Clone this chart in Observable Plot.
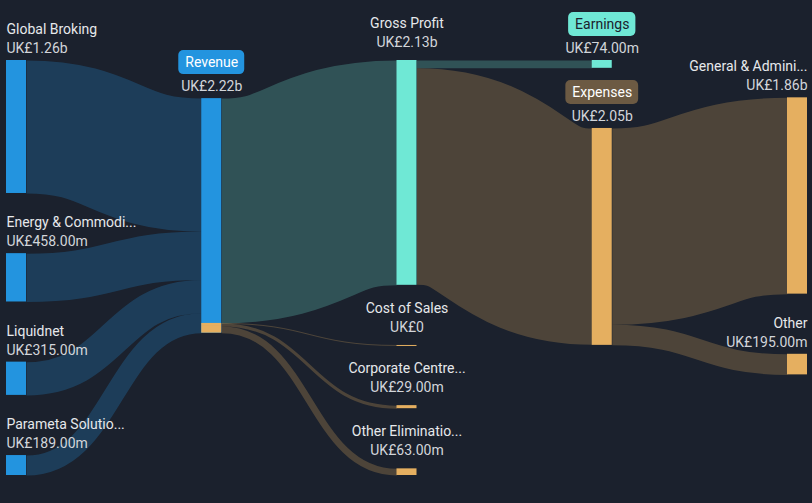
<!DOCTYPE html>
<html><head><meta charset="utf-8">
<script src="https://cdn.jsdelivr.net/npm/d3@7"></script>
<script src="https://cdn.jsdelivr.net/npm/@observablehq/plot@0.6"></script>
<style>
html,body{margin:0;padding:0;background:#1b212d;}
#chart{width:812px;height:503px;overflow:hidden;}
</style></head>
<body><div id="chart"></div>
<script>
// ---------- data ----------
const nodeNames = ["Global Broking","Energy & Commodi...","Liquidnet","Parameta Solutio...","Revenue","Gross Profit","Cost of Sales","Corporate Centre...","Other Eliminatio...","Earnings","Expenses","General & Admini...","Other"];
const nodeLabels = ["UK£1.26b","UK£458.00m","UK£315.00m","UK£189.00m","UK£2.22b","UK£2.13b","UK£0","UK£29.00m","UK£63.00m","UK£74.00m","UK£2.05b","UK£1.86b","UK£195.00m"];
const nodeKinds = ["revenue","revenue","revenue","revenue","revenue","profit","expense","expense","expense","profit","expense","expense","expense"];
const badgeNodes = ["Revenue","Earnings","Expenses"];
const linkSources = ["Global Broking","Energy & Commodi...","Liquidnet","Parameta Solutio...","Revenue","Revenue","Revenue","Revenue","Gross Profit","Gross Profit","Expenses","Expenses"];
const linkTargets = ["Revenue","Revenue","Revenue","Revenue","Gross Profit","Cost of Sales","Corporate Centre...","Other Eliminatio...","Earnings","Expenses","General & Admini...","Other"];
const linkValues = [1260,458,315,189,2130,0,29,63,74,2050,1860,195]; // UK£ millions

// ---------- sankey layout (d3-sankey algorithm, left aligned, input order kept) ----------
const GAP = 570;        // node padding, in value units
const ITER = 24;
const nodes = nodeNames.map((name,i)=>({index:i,name,label:nodeLabels[i],kind:nodeKinds[i],sourceLinks:[],targetLinks:[]}));
const byName = new Map(nodes.map(n=>[n.name,n]));
const links = linkSources.map((s,i)=>({index:i,source:byName.get(s),target:byName.get(linkTargets[i]),value:linkValues[i]}));
for (const l of links){ l.source.sourceLinks.push(l); l.target.targetLinks.push(l); }
for (const n of nodes) n.value = Math.max(d3.sum(n.sourceLinks,l=>l.value), d3.sum(n.targetLinks,l=>l.value));
{
  let cur = new Set(nodes), nxt = new Set(), x = 0;
  while (cur.size){ for (const n of cur){ n.depth = x; for (const l of n.sourceLinks) nxt.add(l.target);} x++; cur = nxt; nxt = new Set(); }
}
const nCols = d3.max(nodes,n=>n.depth)+1;
const columns = d3.range(nCols).map(()=>[]);
for (const n of nodes) columns[n.depth].push(n);
const Y0 = 0;
const Y1 = d3.max(columns, c => d3.sum(c,n=>n.value) + (c.length-1)*GAP);
const py = GAP;
const ascB = (a,b)=>a.y0-b.y0;
function reorderNodeLinks({sourceLinks,targetLinks}){
  for (const {source:{sourceLinks}} of targetLinks) sourceLinks.sort((a,b)=>ascB(a.target,b.target)||a.index-b.index);
  for (const {target:{targetLinks}} of sourceLinks) targetLinks.sort((a,b)=>ascB(a.source,b.source)||a.index-b.index);
}
function reorderLinks(ns){ for (const {sourceLinks,targetLinks} of ns){ sourceLinks.sort((a,b)=>ascB(a.target,b.target)||a.index-b.index); targetLinks.sort((a,b)=>ascB(a.source,b.source)||a.index-b.index);} }
const ky = d3.min(columns, c => (Y1-Y0-(c.length-1)*py)/d3.sum(c,n=>n.value));
for (const ns of columns){
  let y = Y0;
  for (const n of ns){ n.y0=y; n.y1=y+n.value*ky; y=n.y1+py; for (const l of n.sourceLinks) l.width=l.value*ky; }
  y = (Y1 - y + py)/(ns.length+1);
  ns.forEach((n,i)=>{ n.y0 += y*(i+1); n.y1 += y*(i+1); });
  reorderLinks(ns);
}
function targetTop(source,target){
  let y = source.y0 - (source.sourceLinks.length-1)*py/2;
  for (const {target:node,width} of source.sourceLinks){ if (node===target) break; y += width+py; }
  for (const {source:node,width} of target.targetLinks){ if (node===source) break; y -= width; }
  return y;
}
function sourceTop(source,target){
  let y = target.y0 - (target.targetLinks.length-1)*py/2;
  for (const {source:node,width} of target.targetLinks){ if (node===source) break; y += width+py; }
  for (const {target:node,width} of source.sourceLinks){ if (node===target) break; y -= width; }
  return y;
}
function tb(ns,y,i,a){ for (;i<ns.length;++i){ const n=ns[i]; const dy=(y-n.y0)*a; if (dy>1e-6) n.y0+=dy,n.y1+=dy; y=n.y1+py; } }
function bt(ns,y,i,a){ for (;i>=0;--i){ const n=ns[i]; const dy=(n.y1-y)*a; if (dy>1e-6) n.y0-=dy,n.y1-=dy; y=n.y0-py; } }
function resolve(ns,a){ const i=ns.length>>1; const s=ns[i]; bt(ns,s.y0-py,i-1,a); tb(ns,s.y1+py,i+1,a); bt(ns,Y1,ns.length-1,a); tb(ns,Y0,0,a); }
function relaxLR(a,b){
  for (let i=1;i<columns.length;++i){ const col=columns[i];
    for (const t of col){ let y=0,w=0; for (const {source,value} of t.targetLinks){ const v=value*(t.depth-source.depth); y+=targetTop(source,t)*v; w+=v; }
      if (!(w>0)) continue; const dy=(y/w-t.y0)*a; t.y0+=dy; t.y1+=dy; reorderNodeLinks(t); }
    resolve(col,b); }
}
function relaxRL(a,b){
  for (let i=columns.length-2;i>=0;--i){ const col=columns[i];
    for (const s of col){ let y=0,w=0; for (const {target,value} of s.sourceLinks){ const v=value*(target.depth-s.depth); y+=sourceTop(s,target)*v; w+=v; }
      if (!(w>0)) continue; const dy=(y/w-s.y0)*a; s.y0+=dy; s.y1+=dy; reorderNodeLinks(s); }
    resolve(col,b); }
}
for (let i=0;i<ITER;++i){ const a=Math.pow(0.99,i); const b=Math.max(1-a,(i+1)/ITER); relaxRL(a,b); relaxLR(a,b); }
for (const n of nodes){ let y0=n.y0, y1=n.y0;
  for (const l of n.sourceLinks){ l.y0=y0+l.width/2; y0+=l.width; }
  for (const l of n.targetLinks){ l.y1=y1+l.width/2; y1+=l.width; } }

// ---------- rendering ----------
const W = 812, H = 503;
const xRange = [6, 787];
const yRange = [60, 475];
const pxPerCol = (xRange[1]-xRange[0])/(nCols-1);
const k = (yRange[1]-yRange[0])/(Y1-Y0);        // px per value unit
const NW = 20/pxPerCol;                          // node width in column units
const ctx = document.createElement("canvas").getContext("2d");
ctx.font = "14px Roboto";
const tw = s => ctx.measureText(s).width;

const last = nCols-1;
const cx = n => n.depth===0 ? n.depth : n.depth===last ? n.depth+NW : n.depth+NW/2;
const nameOff = n => n.depth===2 ? 37 : 31;
const valOff = n => n.depth===2 ? 18 : 12;
const isBadge = n => badgeNodes.includes(n.name);
const badges = nodes.filter(isBadge);
const plain = nodes.filter(n=>!isBadge(n));
const anchorOf = n => n.depth===0 ? "start" : n.depth===last ? "end" : "middle";
const splitLinks = links.filter(l => l.source.kind==="revenue" && l.source.depth>0 && l.target.kind==="expense");

const textMarks = [];
for (const anchor of ["start","middle","end"]){
  const pn = plain.filter(n=>anchorOf(n)===anchor);
  const all = nodes.filter(n=>anchorOf(n)===anchor);
  textMarks.push(Plot.text(pn,{x:cx,y:n=>n.y0-nameOff(n)/k,text:"name",textAnchor:anchor,fill:"#e6e8eb",fontSize:14}));
  textMarks.push(Plot.text(all,{x:cx,y:n=>n.y0-valOff(n)/k,text:"label",textAnchor:anchor,fill:"#d2d5da",fontSize:14}));
}

const chart = Plot.plot({
  width: W, height: H,
  marginTop: yRange[0], marginBottom: H-yRange[1], marginLeft: xRange[0], marginRight: W-xRange[1],
  x: {domain:[0,nCols-1], range:xRange, axis:null},
  y: {domain:[Y0,Y1], range:yRange, axis:null},
  color: {domain:["revenue","profit","expense","expense-badge"], range:["#2394df","#6fe8d5","#e5af60","#6c5a43"]},
  style: {background:"#1b212d", fontFamily:"Roboto, sans-serif", fontSize:"14px", overflow:"visible"},
  marks: [
    Plot.link(links,{x1:l=>l.source.depth+NW, y1:"y0", x2:l=>l.target.depth, y2:"y1", curve:"bump-x",
      stroke:l=>l.target.kind, strokeOpacity:0.25, strokeWidth:l=>Math.max(1,l.width*k)}),
    Plot.rect(nodes,{x1:"depth", x2:n=>n.depth+NW, y1:"y0", y2:n=>Math.max(n.y1,n.y0+1/k), fill:"kind"}),
    Plot.rect(splitLinks,{x1:l=>l.source.depth, x2:l=>l.source.depth+NW, y1:l=>l.y0-l.width/2, y2:l=>l.y0+l.width/2, fill:l=>l.target.kind}),
    Plot.rect(badges,{x1:n=>cx(n)-(tw(n.name)/2+6.5)/pxPerCol, x2:n=>cx(n)+(tw(n.name)/2+6.5)/pxPerCol,
      y1:n=>n.y0-48/k, y2:n=>n.y0-24/k, fill:n=>n.kind==="expense"?"expense-badge":n.kind, rx:5}),
    Plot.text(badges.filter(n=>n.kind!=="profit"),{x:cx,y:n=>n.y0-36/k,text:"name",fill:"#ffffff",fontSize:14}),
    Plot.text(badges.filter(n=>n.kind==="profit"),{x:cx,y:n=>n.y0-36/k,text:"name",fill:"#1b212d",fontSize:14}),
    ...textMarks
  ]
});
document.getElementById("chart").appendChild(chart);
</script>
</body></html>
